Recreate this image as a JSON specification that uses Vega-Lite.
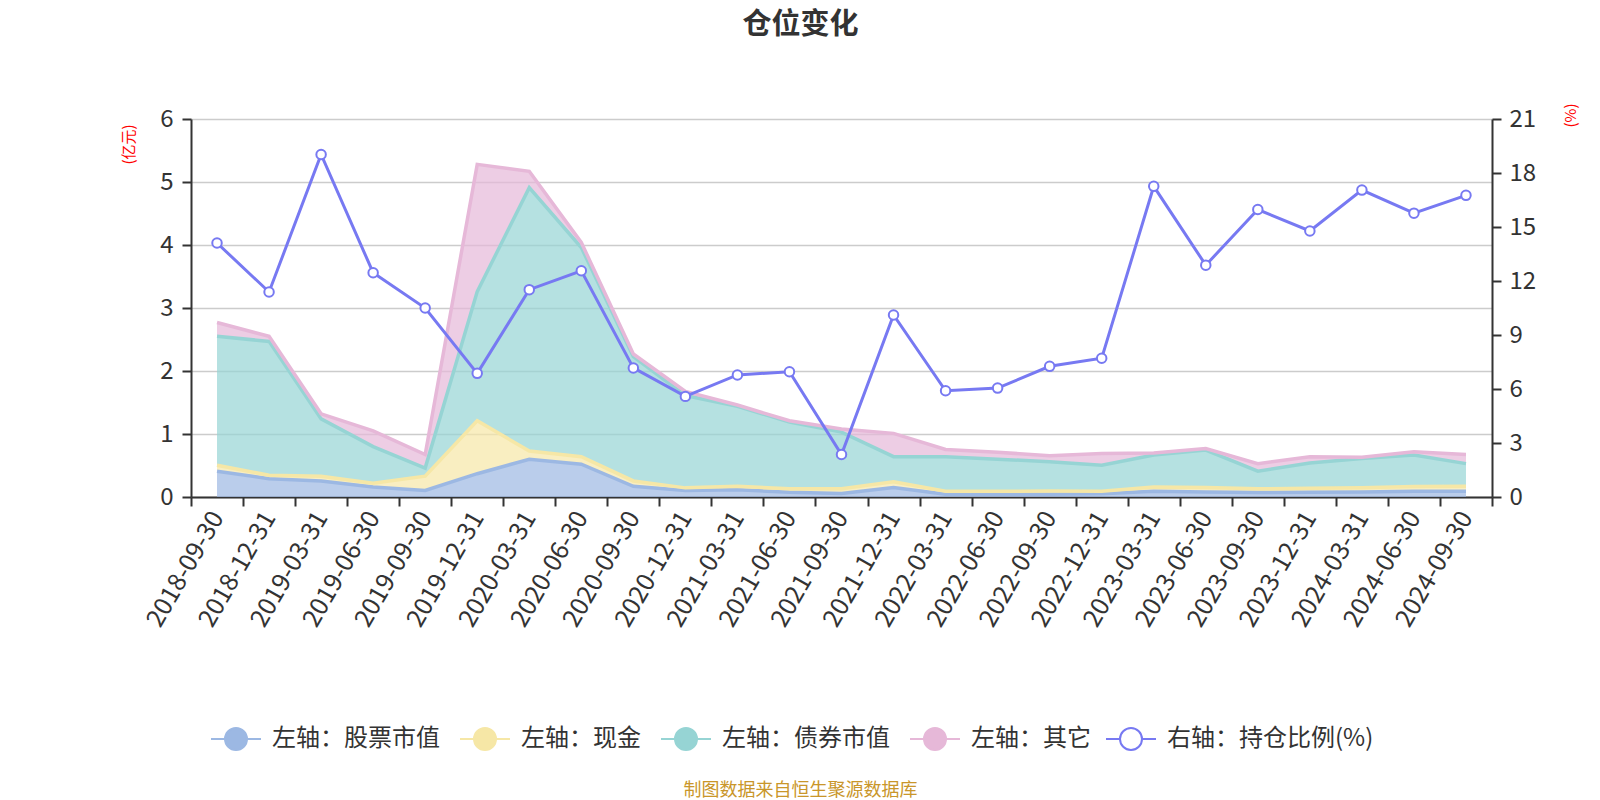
{
  "$schema": "https://vega.github.io/schema/vega-lite/v6.json",
  "width": 1301,
  "height": 378,
  "autosize": {"type": "none"},
  "padding": {"left": 191, "top": 119, "right": 108, "bottom": 303},
  "background": "white",
  "config": {
    "font": "Noto Sans CJK SC",
    "view": {"stroke": null},
    "axis": {"labelFont": "Noto Sans CJK SC", "titleFont": "Noto Sans CJK SC"}
  },
  "title": {
    "text": "仓位变化",
    "fontSize": 29,
    "fontWeight": "bold",
    "color": "#333333",
    "anchor": "middle",
    "frame": "group",
    "baseline": "middle",
    "offset": 49,
    "dx": -41
  },
  "data": {
    "values": [
      {"date": "2018-09-30", "左轴：股票市值": 0.41, "左轴：现金": 0.095, "左轴：债券市值": 2.045, "左轴：其它": 0.22, "右轴：持仓比例(%)": 14.11},
      {"date": "2018-12-31", "左轴：股票市值": 0.29, "左轴：现金": 0.055, "左轴：债券市值": 2.125, "左轴：其它": 0.08, "右轴：持仓比例(%)": 11.39},
      {"date": "2019-03-31", "左轴：股票市值": 0.255, "左轴：现金": 0.075, "左轴：债券市值": 0.91, "左轴：其它": 0.08, "右轴：持仓比例(%)": 19.03},
      {"date": "2019-06-30", "左轴：股票市值": 0.16, "左轴：现金": 0.06, "左轴：债券市值": 0.58, "左轴：其它": 0.25, "右轴：持仓比例(%)": 12.46},
      {"date": "2019-09-30", "左轴：股票市值": 0.105, "左轴：现金": 0.225, "左轴：债券市值": 0.13, "左轴：其它": 0.215, "右轴：持仓比例(%)": 10.5},
      {"date": "2019-12-31", "左轴：股票市值": 0.37, "左轴：现金": 0.84, "左轴：债券市值": 2.05, "左轴：其它": 2.02, "右轴：持仓比例(%)": 6.87},
      {"date": "2020-03-31", "左轴：股票市值": 0.6, "左轴：现金": 0.13, "左轴：债券市值": 4.18, "左轴：其它": 0.26, "右轴：持仓比例(%)": 11.52},
      {"date": "2020-06-30", "左轴：股票市值": 0.52, "左轴：现金": 0.12, "左轴：债券市值": 3.32, "左轴：其它": 0.08, "右轴：持仓比例(%)": 12.57},
      {"date": "2020-09-30", "左轴：股票市值": 0.17, "左轴：现金": 0.085, "左轴：债券市值": 1.975, "左轴：其它": 0.04, "右轴：持仓比例(%)": 7.17},
      {"date": "2020-12-31", "左轴：股票市值": 0.105, "左轴：现金": 0.04, "左轴：债券市值": 1.465, "左轴：其它": 0.065, "右轴：持仓比例(%)": 5.59},
      {"date": "2021-03-31", "左轴：股票市值": 0.115, "左轴：现金": 0.055, "左轴：债券市值": 1.27, "左轴：其它": 0.02, "右轴：持仓比例(%)": 6.78},
      {"date": "2021-06-30", "左轴：股票市值": 0.075, "左轴：现金": 0.055, "左轴：债券市值": 1.06, "左轴：其它": 0.02, "右轴：持仓比例(%)": 6.96},
      {"date": "2021-09-30", "左轴：股票市值": 0.055, "左轴：现金": 0.075, "左轴：债券市值": 0.9, "左轴：其它": 0.05, "右轴：持仓比例(%)": 2.36},
      {"date": "2021-12-31", "左轴：股票市值": 0.15, "左轴：现金": 0.09, "左轴：债券市值": 0.4, "左轴：其它": 0.37, "右轴：持仓比例(%)": 10.11},
      {"date": "2022-03-31", "左轴：股票市值": 0.045, "左轴：现金": 0.045, "左轴：债券市值": 0.55, "左轴：其它": 0.115, "右轴：持仓比例(%)": 5.9},
      {"date": "2022-06-30", "左轴：股票市值": 0.045, "左轴：现金": 0.045, "左轴：债券市值": 0.51, "左轴：其它": 0.11, "右轴：持仓比例(%)": 6.05},
      {"date": "2022-09-30", "左轴：股票市值": 0.045, "左轴：现金": 0.05, "左轴：债券市值": 0.465, "左轴：其它": 0.095, "右轴：持仓比例(%)": 7.26},
      {"date": "2022-12-31", "左轴：股票市值": 0.05, "左轴：现金": 0.04, "左轴：债券市值": 0.415, "左轴：其它": 0.185, "右轴：持仓比例(%)": 7.71},
      {"date": "2023-03-31", "左轴：股票市值": 0.09, "左轴：现金": 0.07, "左轴：债券市值": 0.505, "左轴：其它": 0.035, "右轴：持仓比例(%)": 17.26},
      {"date": "2023-06-30", "左轴：股票市值": 0.08, "左轴：现金": 0.07, "左轴：债券市值": 0.595, "左轴：其它": 0.025, "右轴：持仓比例(%)": 12.88},
      {"date": "2023-09-30", "左轴：股票市值": 0.07, "左轴：现金": 0.06, "左轴：债券市值": 0.28, "左轴：其它": 0.12, "右轴：持仓比例(%)": 15.97},
      {"date": "2023-12-31", "左轴：股票市值": 0.075, "左轴：现金": 0.065, "左轴：债券市值": 0.4, "左轴：其它": 0.1, "右轴：持仓比例(%)": 14.78},
      {"date": "2024-03-31", "左轴：股票市值": 0.08, "左轴：现金": 0.065, "左轴：债券市值": 0.465, "左轴：其它": 0.02, "右轴：持仓比例(%)": 17.05},
      {"date": "2024-06-30", "左轴：股票市值": 0.09, "左轴：现金": 0.075, "左轴：债券市值": 0.5, "左轴：其它": 0.055, "右轴：持仓比例(%)": 15.77},
      {"date": "2024-09-30", "左轴：股票市值": 0.09, "左轴：现金": 0.08, "左轴：债券市值": 0.36, "左轴：其它": 0.145, "右轴：持仓比例(%)": 16.76}
    ]
  },
  "transform": [
    {"fold": ["左轴：股票市值", "左轴：现金", "左轴：债券市值", "左轴：其它", "右轴：持仓比例(%)"], "as": ["series", "value"]},
    {"window": [{"op": "row_number", "as": "stackOrder"}], "groupby": ["date"]}
  ],
  "encoding": {
    "x": {
      "field": "date",
      "type": "ordinal",
      "scale": {"type": "band", "paddingInner": 0, "paddingOuter": 0},
      "axis": {
        "title": "制图数据来自恒生聚源数据库",
        "titleColor": "#c9962a",
        "titleFontSize": 18,
        "titleFontWeight": "normal",
        "titleX": 609,
        "titleY": 293,
        "titleAlign": "center",
        "titleBaseline": "middle",
        "titleAngle": 0,
        "labelAngle": -60,
        "labelFontSize": 25,
        "labelColor": "#333333",
        "labelPadding": 7,
        "labelOverlap": false,
        "tickSize": 9,
        "tickWidth": 2,
        "tickColor": "#333333",
        "tickBand": "extent",
        "domainColor": "#333333",
        "domainWidth": 2,
        "grid": false
      }
    }
  },
  "layer": [
    {
      "transform": [{"filter": "datum.series !== '右轴：持仓比例(%)'"}],
      "mark": {"type": "area", "interpolate": "linear", "fillOpacity": 0.7, "line": {"strokeWidth": 3.5}},
      "encoding": {
        "y": {
          "field": "value",
          "type": "quantitative",
          "stack": "zero",
          "scale": {"domain": [0, 6], "nice": false},
          "axis": {
            "values": [0, 1, 2, 3, 4, 5, 6],
            "title": "(亿元)",
            "titleColor": "#ff0000",
            "titleFontSize": 15,
            "titleFontWeight": "normal",
            "titleAngle": -90,
            "titleX": -63,
            "titleY": 25,
            "titleAlign": "center",
            "titleBaseline": "middle",
            "labelFontSize": 24,
            "labelColor": "#333333",
            "labelPadding": 9,
            "tickSize": 9,
            "tickWidth": 2,
            "tickColor": "#333333",
            "domainColor": "#333333",
            "domainWidth": 2,
            "grid": true,
            "gridColor": "#cccccc",
            "gridWidth": 1.5
          }
        },
        "order": {"field": "stackOrder", "type": "quantitative"},
        "color": {
          "field": "series",
          "type": "nominal",
          "sort": ["左轴：股票市值", "左轴：现金", "左轴：债券市值", "左轴：其它"],
          "scale": {
            "domain": ["左轴：股票市值", "左轴：现金", "左轴：债券市值", "左轴：其它"],
            "range": ["#9cb8e3", "#f6e7a6", "#96d4d4", "#e6b8d8"]
          },
          "legend": {
            "orient": "none",
            "direction": "horizontal",
            "legendX": 19,
            "legendY": 594,
            "title": null,
            "padding": 0,
            "labelFontSize": 24,
            "labelLimit": 500,
            "labelColor": "#333333",
            "labelFont": "Noto Sans CJK SC",
            "symbolSize": 2500,
            "symbolType": "M-1,0L-0.44,0M0.44,0L1,0M0.44,0A0.44,0.44,0,1,1,-0.44,0A0.44,0.44,0,1,1,0.44,0Z",
            "symbolStrokeWidth": 2,
            "symbolOpacity": 1,
            "labelOffset": 10,
            "columnPadding": 16
          }
        }
      }
    },
    {
      "transform": [{"filter": "datum.series === '右轴：持仓比例(%)'"}],
      "mark": {
        "type": "line",
        "interpolate": "linear",
        "strokeWidth": 3,
        "point": {"filled": false, "fill": "#ffffff", "size": 90, "strokeWidth": 2}
      },
      "encoding": {
        "y": {
          "field": "value",
          "type": "quantitative",
          "scale": {"domain": [0, 21], "nice": false},
          "axis": {
            "orient": "right",
            "values": [0, 3, 6, 9, 12, 15, 18, 21],
            "title": "(%)",
            "titleColor": "#ff0000",
            "titleFontSize": 15,
            "titleFontWeight": "normal",
            "titleAngle": -90,
            "titleX": 78,
            "titleY": -4,
            "titleAlign": "center",
            "titleBaseline": "middle",
            "labelFontSize": 24,
            "labelColor": "#333333",
            "labelPadding": 8,
            "tickSize": 9,
            "tickWidth": 2,
            "tickColor": "#333333",
            "domainColor": "#333333",
            "domainWidth": 2,
            "grid": false
          }
        },
        "color": {
          "field": "series",
          "type": "nominal",
          "scale": {"domain": ["右轴：持仓比例(%)"], "range": ["#7779f2"]},
          "legend": {
            "orient": "none",
            "direction": "horizontal",
            "legendX": 914,
            "legendY": 594,
            "title": null,
            "padding": 0,
            "labelFontSize": 24,
            "labelLimit": 500,
            "labelColor": "#333333",
            "labelFont": "Noto Sans CJK SC",
            "symbolSize": 2500,
            "symbolType": "M-1,0L-0.44,0M0.44,0L1,0M0.44,0A0.44,0.44,0,1,1,-0.44,0A0.44,0.44,0,1,1,0.44,0Z",
            "symbolStrokeWidth": 2,
            "symbolFillColor": "#ffffff",
            "symbolOpacity": 1,
            "labelOffset": 10
          }
        }
      }
    }
  ],
  "resolve": {"scale": {"y": "independent", "color": "independent"}}
}
